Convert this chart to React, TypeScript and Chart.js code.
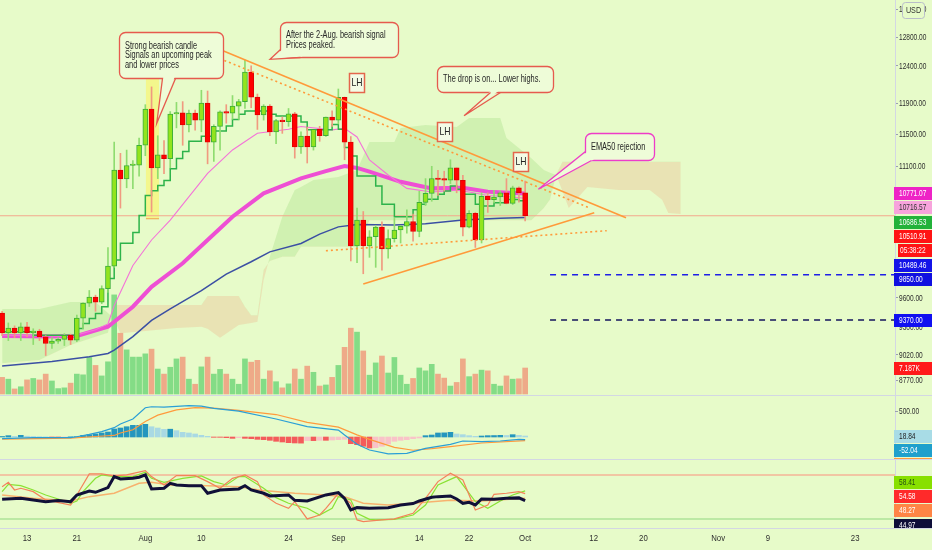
import React, { useEffect, useRef } from 'react';
import { Chart, registerables } from 'chart.js';

Chart.register(...registerables);

// ---------------- layout constants (pixels) ----------------
const W = 932;
const H = 550;
const AXIS_W = 37;
const TIME_H = 22;
const PLOT_TOP = 0;
const PLOT_BOTTOM = H - TIME_H;
const MAIN_BOTTOM = 395;
const MACD_BOTTOM = 459;
const BG = '#e7fbc9';
const FONT = "'Liberation Sans', Arial, sans-serif";
const SQUEEZE = 0.75;
const TEXT = '#2e2e2e';

// ---------------- time axis: days relative to 1 Aug 2020 ----------------
const X_MIN = -23.34;
const X_MAX = 120.4;
const FIRST_DAY = -23; // first candle: 9 Jul
const timeTickDays = [-19, -11, 0, 9, 23, 31, 44, 52, 61, 72, 80, 92, 100, 114];
const timeTickLabels = ['13', '21', 'Aug', '10', '24', 'Sep', '14', '22', 'Oct', '12', '20', 'Nov', '9', '23'];

// ---------------- axis ticks ----------------
const priceTicks = [13200, 12800, 12400, 11900, 11500, 11100, 9600, 9300, 9020, 8770];
const macdTicks = [500];
const COUNTDOWN = '05:38:22';

// ---------------- daily candles (BTCUSD) ----------------
const opens = [9441, 9237, 9287, 9237, 9300, 9240, 9255, 9197, 9130, 9155, 9172, 9212, 9165, 9390, 9546, 9610, 9555, 9700, 9944, 11054,
  10946, 11110, 11115, 11360, 11823, 11079, 11241, 11195, 11758, 11775, 11617, 11770, 11680, 11900, 11400, 11600, 11785, 11770, 11860, 11920,
  12315, 11980, 11745, 11860, 11527, 11675, 11660, 11760, 11339, 11477, 11339, 11560, 11480, 11720, 11680, 11975, 11400, 10166, 10460, 10166,
  10270, 10380, 10135, 10250, 10347, 10390, 10445, 10330, 10668, 10773, 10952, 10940, 10932, 11080, 10930, 10380, 10540, 10235, 10737, 10700,
  10730, 10780, 10655, 10840, 10780];
const highs = [9460, 9340, 9310, 9340, 9345, 9280, 9275, 9210, 9190, 9190, 9230, 9225, 9420, 9550, 9680, 9630, 9730, 10150, 11400, 11260,
  11300, 11170, 11450, 11880, 12115, 11480, 11420, 11790, 11910, 11920, 11810, 11810, 12070, 12060, 11620, 11800, 11880, 12000, 11950, 12480,
  12400, 12020, 11880, 11880, 11690, 11720, 11830, 11780, 11530, 11590, 11560, 11600, 11720, 11800, 12087, 11980, 11470, 10600, 10560, 10340,
  10400, 10440, 10350, 10480, 10400, 10580, 10530, 10800, 10950, 11100, 11050, 11040, 11180, 11080, 10990, 10570, 10550, 10780, 10780, 10810,
  10800, 10950, 10860, 10850, 10920];
const lows = [9210, 9160, 9190, 9160, 9200, 9120, 9160, 9010, 9080, 9130, 9110, 9120, 9150, 9280, 9510, 9460, 9540, 9660, 9930, 10600,
  10840, 10830, 10980, 11230, 10554, 10950, 11010, 11080, 11580, 11360, 11530, 11550, 11530, 11130, 11160, 11300, 11640, 11690, 11690, 11830,
  11840, 11560, 11680, 11480, 11380, 11510, 11600, 11200, 11260, 11140, 11300, 11410, 11470, 11600, 11630, 11180, 10000, 9980, 9860, 10040,
  9930, 9900, 10030, 10210, 10200, 10310, 10220, 10270, 10630, 10680, 10750, 10800, 10890, 10780, 10280, 10370, 10150, 10200, 10550, 10660,
  10630, 10650, 10640, 10670, 10450];
const closes = [9237, 9287, 9237, 9300, 9240, 9255, 9197, 9130, 9155, 9172, 9212, 9165, 9390, 9546, 9610, 9555, 9700, 9944, 11054, 10946,
  11110, 11115, 11360, 11823, 11079, 11241, 11195, 11758, 11775, 11617, 11770, 11680, 11900, 11400, 11600, 11785, 11770, 11860, 11920, 12315,
  11980, 11745, 11860, 11527, 11675, 11660, 11760, 11339, 11477, 11339, 11560, 11480, 11720, 11680, 11975, 11400, 10166, 10460, 10166, 10270,
  10380, 10135, 10250, 10347, 10390, 10445, 10330, 10668, 10773, 10952, 10940, 10932, 11080, 10930, 10380, 10540, 10235, 10737, 10700, 10730,
  10780, 10655, 10840, 10780, 10510.91];
// volume in thousands
const volumesK = [4.6, 4.1, 1.4, 2.0, 3.9, 4.3, 3.9, 5.5, 3.6, 1.5, 1.7, 3.0, 5.5, 5.3, 10.1, 7.9, 5.0, 8.9, 27.4, 16.8,
  12.2, 10.2, 10.2, 11.1, 12.4, 6.9, 5.5, 7.4, 9.7, 10.2, 4.1, 2.7, 7.5, 10.2, 5.5, 6.8, 5.5, 4.1, 2.7, 9.7,
  8.8, 9.3, 4.1, 6.4, 3.4, 1.7, 2.8, 6.9, 4.1, 7.7, 6.0, 2.2, 2.5, 4.6, 7.9, 12.9, 18.2, 17.1, 11.9, 5.2,
  8.6, 10.5, 5.8, 10.1, 5.2, 2.7, 4.3, 7.2, 6.4, 8.2, 5.5, 4.4, 2.2, 3.2, 9.7, 4.8, 5.5, 6.6, 6.4, 2.7,
  2.2, 5.0, 4.1, 4.2, 7.187];
// step line (one value per candle)
const tenkan = [9249, 9249, 9249, 9249, 9249, 9249, 9215, 9215, 9215, 9215, 9215, 9215, 9215, 9283, 9334, 9386, 9438, 9508, 9808, 10011,
  10197, 10197, 10319, 10514, 10747, 10806, 10866, 10926, 11069, 11196, 11283, 11412, 11412, 11475, 11475, 11539, 11539, 11603, 11689, 11754,
  11798, 11798, 11798, 11798, 11754, 11733, 11733, 11733, 11733, 11655, 11557, 11557, 11557, 11557, 11624, 11561, 11331, 11227, 10981, 10981,
  10981, 10862, 10644, 10644, 10500, 10500, 10500, 10581, 10644, 10703, 10703, 10763, 10803, 10862, 10822, 10763, 10763, 10644, 10624, 10624,
  10663, 10663, 10700, 10700, 10686.53];

// ---------------- moving averages (sampled) ----------------
const ema50Days = [-23, -15, -11, -6, -2, 1, 6, 10, 14, 19, 25, 29, 32, 34, 36, 41, 46, 51, 55, 61];
const ema50Vals = [9206, 9200, 9206, 9301, 9508, 9719, 9974, 10234, 10500, 10774, 10953, 11040, 11103, 11080, 11034, 10912, 10833, 10840, 10793, 10771.07];
const ema20Days = [-23, -12, -8, -6, -5, -4, -2, 1, 4, 10, 14, 18, 23, 25, 30, 32, 34, 36, 39, 42, 46, 50, 52, 55, 58, 61];
const ema20Vals = [9215, 9200, 9270, 9330, 9520, 9660, 9950, 10234, 10460, 11014, 11302, 11511, 11562, 11598, 11554, 11575, 11465, 11177, 10994, 10833, 10790, 10812, 10790, 10748, 10736, 10716.57];
const blueDays = [-23, -15, -9, -6, -5, -2, 1, 4, 9, 13, 17, 20, 25, 28, 31, 34, 40, 45, 51, 57, 61];
const blueVals = [8906, 8950, 8998, 9030, 9064, 9200, 9366, 9486, 9679, 9856, 9991, 10101, 10194, 10300, 10383, 10410, 10405, 10420, 10462, 10483, 10489.46];

// ---------------- cloud ----------------
const cloudDays = [-23, -17, -12, -8, -6, -5, -4, 0, 5, 9, 10, 12, 15, 16, 17, 18, 19, 20, 22, 24,
  25, 27, 31, 34, 36, 40, 41, 45, 50, 52, 57, 58, 62, 64, 65, 66, 67, 68, 71, 76, 81, 83, 84, 86];
const spanA = [9484, 9484, 9558, 9558, 9443, 9380, 9235, 9256, 9287, 9300, 9280, 9188, 9319, 9330, 9340, 9351, 9792, 10046, 10498, 10813,
  10850, 10933, 10971, 11054, 11401, 11401, 11578, 11617, 11592, 11707, 11707, 11451, 11200, 11054, 11020, 10994, 10800, 10602, 10849, 10813,
  10813, 10699, 10543, 10530];
const spanB = [8934, 8965, 9115, 9198, 9240, 9526, 9526, 9526, 9526, 9526, 9621, 9621, 9621, 9507, 9420, 9420, 9900, 10000, 10046, 10046,
  10157, 10157, 10157, 10157, 10460, 10460, 10460, 10460, 10460, 10460, 10460, 10460, 10460, 10600, 10700, 11000, 11157, 11157, 11157, 11157,
  11157, 11157, 11157, 11157];

// ---------------- drawn trend lines & levels ----------------
const resistanceDays = [10.92, 77.2];
const resistancePrices = [12664, 10488];
const resistanceDotDays = [11.2, 71.2];
const resistanceDotPrices = [12525, 10607];
const supportDays = [35.0, 72.1];
const supportPrices = [9749, 10547];
const supportDotDays = [29.0, 74.1];
const supportDotPrices = [10113, 10339];
const levelPrices = [9850, 9370];
const LEVEL_START_DAY = 65;

// ---------------- MACD ----------------
const macdDays = [-23, -18, -12, -11, -9, -7, -5, -4, -2, 0, 1, 3, 7, 9, 11, 15, 21, 26, 31, 32, 34, 36, 39, 42, 45, 49, 51, 54, 57, 60, 61];
const macdVals = [-32, -13, -13, 5, 50, 102, 179, 250, 346, 563, 582, 576, 602, 595, 550, 499, 346, 198, 134, 38, -141, -250, -326, -314, -218, -141, -77, -90, -77, -45, -52.04];
const signalDays = [-23, -12, -8, -5, -4, -2, 0, 2, 5, 8, 11, 15, 21, 26, 31, 34, 36, 40, 43, 46, 49, 54, 61];
const signalVals = [-40, -22, 10, 30, 77, 140, 300, 420, 520, 565, 556, 512, 432, 280, 190, 40, -45, -200, -255, -225, -185, -115, -70.9];
const histVals = [10, 26, 13, 32, 15, 10, 6, 3, -3, -5, -3, 3, 6, 32, 45, 58, 77, 96, 154, 173,
  198, 224, 224, 244, 198, 173, 147, 150, 122, 90, 77, 58, 32, 13, -6, -6, -13, -26, -13, -26,
  -32, -45, -51, -64, -83, -96, -109, -115, -118, -70, -70, -64, -64, -58, -51, -45, -128, -147, -179, -211,
  -205, -179, -134, -83, -64, -51, -32, -19, 26, 38, 77, 80, 90, 58, 45, 26, 13, 19, 26, 28,
  32, 30, 45, 32, 18.84];

// ---------------- RSI / stochastic panel ----------------
const rsiDays = [-23, -20, -18, -16, -14, -12, -11, -9, -8, -6, -5, -4, -2, -1, 0, 1, 3, 4, 5, 7, 9, 10, 12, 15, 16, 17, 19, 20, 23, 24,
  26, 29, 31, 32, 33, 34, 36, 39, 41, 43, 44, 46, 47, 49, 50, 51, 52, 53, 54, 56, 58, 60, 61];
const rsiVals = [46.9, 48.2, 46.0, 43.7, 45.1, 43.7, 52.8, 58.2, 56.4, 62.8, 77.8, 74.6, 75.5, 77.0, 80.1, 61.0, 61.9, 68.7, 66.4, 65.5,
  65.5, 55.1, 59.6, 61.0, 65.5, 59.6, 55.1, 51.4, 52.8, 45.5, 44.6, 52.8, 56.0, 48.2, 32.3, 35.5, 34.6, 35.5, 39.1, 41.0,
  44.6, 49.6, 50.5, 51.4, 47.3, 41.4, 42.8, 39.1, 47.3, 46.9, 48.2, 48.8, 44.97];
const rsiMaDays = [-23, -18, -12, -9, -5, -1, 1, 4, 10, 15, 19, 24, 29, 32, 35, 39, 43, 49, 54, 61];
const rsiMaVals = [52.8, 48.2, 44.6, 50.5, 55.1, 68.7, 70.1, 66.4, 65.5, 64.1, 58.7, 55.1, 52.8, 50.5, 41.4, 39.1, 41.4, 45.5, 44.6, 48.27];
const stochKDays = [-23, -22, -20, -18, -16, -13, -12, -11, -10, -8, -7, -5, -2, 0, 1, 3, 6, 9, 11, 13, 15, 16, 19, 21, 23, 25, 26, 28, 30, 31,
  33, 34, 36, 37, 40, 43, 45, 47, 50, 51, 53, 55, 57, 59, 61];
const stochKVals = [57.3, 67.3, 65.5, 59.6, 52.8, 44.6, 41.4, 44.6, 57.3, 75.5, 80.1, 77.8, 77.8, 83.7, 75.5, 70.1, 75.5, 78.7, 71.0, 66.4,
  77.8, 77.8, 61.9, 49.1, 41.4, 36.9, 34.6, 25.5, 34.6, 50.5, 46.0, 27.8, 19.6, 18.7, 19.6, 25.5, 39.1, 66.4, 77.8, 66.4,
  43.7, 34.6, 44.6, 52.8, 58.41];
const stochDDays = [-23, -22, -21, -20, -18, -16, -12, -11, -9, -7, -5, -3, 0, 1, 3, 5, 8, 10, 12, 14, 16, 18, 19, 21, 23, 24, 26, 28, 29, 31,
  33, 34, 35, 38, 40, 43, 45, 47, 49, 51, 53, 55, 56, 58, 60, 61];
const stochDVals = [64.1, 70.1, 59.6, 61.9, 57.3, 46.0, 39.1, 52.8, 81.4, 81.4, 78.7, 80.1, 86.0, 77.8, 66.4, 79.2, 79.2, 71.0, 61.9, 75.5,
  80.1, 71.0, 52.8, 41.4, 34.6, 43.7, 20.1, 25.5, 34.6, 55.1, 41.4, 18.7, 16.4, 18.7, 20.1, 27.8, 48.2, 71.0, 82.3, 73.2,
  32.3, 39.1, 53.7, 55.1, 57.3, 54.58];
const rsiBands = [80, 20];

// ---------------- annotations ----------------
const highlight = { d0: 0.1, d1: 2.2, hi: 12230, lo: 10482 };
const callouts = [
  { lines: ['Strong bearish candle', 'Signals an upcoming peak', 'and lower prices'], day: -4.22, price: 12875, w: 104, h: 46,
    base: [[43, 46], [56, 46]], tipDay: 1.83, tipPrice: 11639, color: '#e65a4e' },
  { lines: ['After the 2-Aug. bearish signal', 'Prices peaked.'], day: 21.63, price: 13018, w: 118, h: 35,
    base: [[0, 27], [20, 35]], tipDay: 20.03, tipPrice: 12489, color: '#e65a4e' },
  { lines: ['The drop is on... Lower highs.'], day: 46.8, price: 12397, w: 116, h: 26,
    base: [[53, 26], [63, 26]], tipDay: 51.19, tipPrice: 11736, color: '#e65a4e' },
  { lines: ['EMA50 rejection'], day: 70.62, price: 11511, w: 69, h: 27,
    base: [[0, 18], [6, 27]], tipDay: 63.12, tipPrice: 10822, color: '#ee3cc8' },
];
const lhMarks = [
  { day: 34.0, price: 12167 },
  { day: 48.2, price: 11527 },
  { day: 60.26, price: 11148 },
];

// ---------------- scale calibration ----------------
const PRICE_CAL = { v1: 12800, y1: 37, v2: 9370, y2: 320 };
const VOL_CAL = { v1: 0, y1: 394, v2: 7.187, y2: 368 };
const MACD_CAL = { v1: 0, y1: 437, v2: 500, y2: 411 };
const RSI_CAL = { v1: 80, y1: 475, v2: 20, y2: 519 };

function linRange(c: any) {
  const k = (c.v1 - c.v2) / (c.y2 - c.y1);
  return { min: c.v1 - k * (PLOT_BOTTOM - c.y1), max: c.v1 + k * (c.y1 - PLOT_TOP) };
}
function logRange(c: any) {
  const l1 = Math.log10(c.v1);
  const l2 = Math.log10(c.v2);
  const k = (l1 - l2) / (c.y2 - c.y1);
  return { min: Math.pow(10, l1 - k * (PLOT_BOTTOM - c.y1)), max: Math.pow(10, l1 + k * (c.y1 - PLOT_TOP)) };
}

const last = (a: number[]) => a[a.length - 1];
const pts = (xs: number[], ys: number[]) => xs.map((x, k) => ({ x, y: ys[k] }));
const candleX = (i: number) => FIRST_DAY + i;

function roundRect(ctx: CanvasRenderingContext2D, x: number, y: number, w: number, h: number, r: number) {
  ctx.beginPath();
  ctx.moveTo(x + r, y);
  ctx.arcTo(x + w, y, x + w, y + h, r);
  ctx.arcTo(x + w, y + h, x, y + h, r);
  ctx.arcTo(x, y + h, x, y, r);
  ctx.arcTo(x, y, x + w, y, r);
  ctx.closePath();
}

// narrow text: the reference uses a condensed face
function sText(ctx: CanvasRenderingContext2D, text: string, x: number, y: number, align: CanvasTextAlign = 'left', sx = SQUEEZE) {
  ctx.save();
  ctx.translate(x, y);
  ctx.scale(sx, 1);
  ctx.textAlign = align;
  ctx.textBaseline = 'middle';
  ctx.fillText(text, 0, 0);
  ctx.restore();
}

function layoutLabels(items: any[], maxY: number | null, gap: number) {
  items.sort((a, b) => a.y - b.y);
  for (let k = 1; k < items.length; k++) {
    if (items[k].y < items[k - 1].y + gap) items[k].y = items[k - 1].y + gap;
  }
  if (maxY !== null) {
    const over = items[items.length - 1].y - maxY;
    if (over > 0) items.forEach((it) => (it.y -= over));
  }
  return items;
}

const decorPlugin = {
  id: 'tvDecor',
  beforeDraw(chart: any) {
    const ctx = chart.ctx;
    ctx.save();
    ctx.fillStyle = BG;
    ctx.fillRect(0, 0, chart.width, chart.height);
    ctx.restore();
  },
  beforeDatasetsDraw(chart: any) {
    const ctx = chart.ctx;
    const xs = chart.scales.x;
    const ys = chart.scales.y;
    const x0 = xs.getPixelForValue(highlight.d0);
    const x1 = xs.getPixelForValue(highlight.d1);
    const y0 = ys.getPixelForValue(highlight.hi);
    const y1 = ys.getPixelForValue(highlight.lo);
    ctx.save();
    ctx.fillStyle = 'rgba(255, 244, 80, 0.5)';
    ctx.fillRect(x0, y0, x1 - x0, y1 - y0);
    ctx.strokeStyle = '#f2a040';
    ctx.lineWidth = 1;
    ctx.beginPath();
    ctx.moveTo(x0, y1 + 0.5);
    ctx.lineTo(x1, y1 + 0.5);
    ctx.stroke();
    ctx.restore();
  },
  afterDatasetsDraw(chart: any) {
    const ctx = chart.ctx;
    const xs = chart.scales.x;
    const ys = chart.scales.y;
    ctx.save();
    callouts.forEach((c) => {
      const bx = Math.round(xs.getPixelForValue(c.day)) + 0.5;
      const by = Math.round(ys.getPixelForValue(c.price)) + 0.5;
      const tx = xs.getPixelForValue(c.tipDay);
      const ty = ys.getPixelForValue(c.tipPrice);
      ctx.lineWidth = 1.3;
      ctx.strokeStyle = c.color;
      ctx.fillStyle = '#eefcd8';
      roundRect(ctx, bx, by, c.w, c.h, 6);
      ctx.fill();
      ctx.stroke();
      const cx = bx + c.w / 2;
      const cy = by + c.h / 2;
      const b = c.base.map(([ox, oy]) => [bx + ox, by + oy]);
      const inset = (p: number[]) => {
        const dx = cx - p[0];
        const dy = cy - p[1];
        const L = Math.hypot(dx, dy) || 1;
        return [p[0] + (dx / L) * 2.5, p[1] + (dy / L) * 2.5];
      };
      const i1 = inset(b[0]);
      const i2 = inset(b[1]);
      ctx.beginPath();
      ctx.moveTo(i1[0], i1[1]);
      ctx.lineTo(tx, ty);
      ctx.lineTo(i2[0], i2[1]);
      ctx.closePath();
      ctx.fill();
      ctx.beginPath();
      ctx.moveTo(b[0][0], b[0][1]);
      ctx.lineTo(tx, ty);
      ctx.lineTo(b[1][0], b[1][1]);
      ctx.stroke();
      ctx.fillStyle = '#262626';
      ctx.font = `10px ${FONT}`;
      const n = c.lines.length;
      c.lines.forEach((t, k) => {
        sText(ctx, t, bx + 5.5, cy + (k - (n - 1) / 2) * 9.7, 'left', 0.74);
      });
    });
    lhMarks.forEach((m) => {
      const px = Math.round(xs.getPixelForValue(m.day));
      const py = Math.round(ys.getPixelForValue(m.price));
      ctx.fillStyle = '#f3fbe6';
      ctx.strokeStyle = '#e4664c';
      ctx.lineWidth = 1.5;
      ctx.fillRect(px - 7.5, py - 9.5, 15, 19);
      ctx.strokeRect(px - 7.5, py - 9.5, 15, 19);
      ctx.fillStyle = '#222';
      ctx.font = `10.5px ${FONT}`;
      sText(ctx, 'LH', px, py + 0.5, 'center', 0.82);
    });
    ctx.restore();
  },
  afterDraw(chart: any) {
    const ctx = chart.ctx;
    const area = chart.chartArea;
    const right = area.right;
    ctx.save();
    // panel separators and axis line
    ctx.strokeStyle = '#d3d7e3';
    ctx.lineWidth = 1;
    [MAIN_BOTTOM, MACD_BOTTOM, area.bottom].forEach((y) => {
      ctx.beginPath();
      ctx.moveTo(0, y + 0.5);
      ctx.lineTo(chart.width, y + 0.5);
      ctx.stroke();
    });
    ctx.beginPath();
    ctx.moveTo(right + 0.5, 0);
    ctx.lineTo(right + 0.5, area.bottom);
    ctx.stroke();

    ctx.fillStyle = TEXT;
    // time axis labels
    ctx.font = `9.5px ${FONT}`;
    const xs = chart.scales.x;
    xs.ticks.forEach((t: any, k: number) => {
      sText(ctx, timeTickLabels[k], xs.getPixelForValue(t.value), area.bottom + 10.5, 'center', 0.82);
    });
    // price axis labels
    ctx.font = `9px ${FONT}`;
    const ys = chart.scales.y;
    ys.ticks.forEach((t: any) => {
      sText(ctx, Number(t.value).toFixed(2), right + 4, ys.getPixelForValue(t.value) + 0.5, 'left', 0.73);
    });
    // MACD axis ticks
    const ym = chart.scales.yMacd;
    macdTicks.forEach((v) => {
      const y = ym.getPixelForValue(v);
      ctx.strokeStyle = '#9aa0ae';
      ctx.beginPath();
      ctx.moveTo(right, y + 0.5);
      ctx.lineTo(right + 3, y + 0.5);
      ctx.stroke();
      sText(ctx, v.toFixed(2), right + 4, y + 0.5, 'left', 0.73);
    });

    const drawLabel = (it: any, top: number, bottom: number) => {
      ctx.save();
      ctx.beginPath();
      ctx.rect(0, top, chart.width, bottom - top);
      ctx.clip();
      const x0 = it.narrow ? right + 3 : right - 1;
      const yTop = Math.round(it.y - 6.5);
      ctx.fillStyle = it.bg;
      ctx.fillRect(x0, yTop, chart.width - x0, 13);
      ctx.fillStyle = it.fg;
      ctx.font = `9px ${FONT}`;
      sText(ctx, it.text, it.narrow ? right + 5 : right + 4, yTop + 7, 'left', 0.73);
      ctx.restore();
    };

    const mainLabels = [
      { v: last(ema50Vals), bg: '#ee24c6', fg: '#ffffff' },
      { v: last(ema20Vals), bg: '#f7a3dc', fg: '#333333' },
      { v: last(tenkan), bg: '#22b23a', fg: '#ffffff' },
      { v: last(closes), bg: '#ff1414', fg: '#ffffff' },
      { v: last(closes), bg: '#ff1414', fg: '#ffffff', text: COUNTDOWN, eps: 0.01, narrow: true },
      { v: last(blueVals), bg: '#1414e8', fg: '#ffffff' },
      { v: levelPrices[0], bg: '#1010e0', fg: '#ffffff' },
      { v: levelPrices[1], bg: '#1010f0', fg: '#ffffff' },
    ].map((l: any) => ({ ...l, y: ys.getPixelForValue(l.v) + (l.eps || 0), text: l.text || l.v.toFixed(2) }));
    layoutLabels(mainLabels, null, 14.3).forEach((it) => drawLabel(it, 0, MAIN_BOTTOM));

    const yv = chart.scales.yVol;
    drawLabel({ y: yv.getPixelForValue(last(volumesK)), bg: '#ff1a1a', fg: '#ffffff', text: last(volumesK).toFixed(3) + 'K' }, 0, MAIN_BOTTOM);

    const macdLabels = [
      { v: last(histVals), bg: '#a8dce6', fg: '#222222' },
      { v: last(macdVals), bg: '#1fa0cc', fg: '#ffffff' },
      { v: last(signalVals), bg: '#ff9a3c', fg: '#ffffff' },
    ].map((l: any) => ({ ...l, y: ym.getPixelForValue(l.v), text: l.v.toFixed(2) }));
    layoutLabels(macdLabels, null, 14.3).forEach((it) => drawLabel(it, MAIN_BOTTOM + 1, MACD_BOTTOM));

    const yr = chart.scales.yRsi;
    const rsiLabels = [
      { v: last(stochKVals), bg: '#88e000', fg: '#245010' },
      { v: last(stochDVals), bg: '#ff2a2a', fg: '#ffffff' },
      { v: last(rsiMaVals), bg: '#ff8545', fg: '#ffffff' },
      { v: last(rsiVals), bg: '#0e0e38', fg: '#ffffff' },
    ].map((l: any) => ({ ...l, y: yr.getPixelForValue(l.v), text: l.v.toFixed(2) }));
    layoutLabels(rsiLabels, area.bottom - 3, 14.3).forEach((it) => drawLabel(it, MACD_BOTTOM + 1, area.bottom));

    // currency badge
    ctx.fillStyle = BG;
    ctx.strokeStyle = '#b9bdc9';
    ctx.lineWidth = 1;
    roundRect(ctx, right + 7.5, 2.5, 22, 16, 3);
    ctx.fill();
    ctx.stroke();
    ctx.fillStyle = '#333';
    ctx.font = `9px ${FONT}`;
    sText(ctx, 'USD', right + 18.5, 11, 'center', 0.8);
    ctx.restore();
  },
};

export default function App() {
  const ref = useRef<HTMLCanvasElement | null>(null);

  useEffect(() => {
    const up = closes.map((c, i) => c >= opens[i]);
    const priceR = logRange(PRICE_CAL);
    const volR = linRange(VOL_CAL);
    const macdR = linRange(MACD_CAL);
    const rsiR = linRange(RSI_CAL);

    const histColors = histVals.map((v, i) => {
      const prev = i > 0 ? histVals[i - 1] : v;
      if (v >= 0) return v >= prev ? '#2596be' : '#a9d9e3';
      return v <= prev ? '#f45b5b' : '#f9c3c8';
    });

    const line = (data: any[], color: string, width: number, order: number, axis = 'y', extra: any = {}) => ({
      type: 'line',
      data,
      borderColor: color,
      borderWidth: width,
      pointRadius: 0,
      tension: 0,
      fill: false,
      order,
      yAxisID: axis,
      ...extra,
    });

    const hiddenLinear = (r: any) => ({ type: 'linear', display: false, min: r.min, max: r.max, bounds: 'data' });

    const chart = new Chart(ref.current as HTMLCanvasElement, {
      type: 'bar',
      data: {
        datasets: [
          line(pts(cloudDays, spanA), 'transparent', 0, 100, 'y', {
            fill: { target: '+1', above: 'rgba(170, 225, 140, 0.38)', below: 'rgba(236, 204, 160, 0.5)' },
          }),
          line(pts(cloudDays, spanB), 'transparent', 0, 101),
          {
            type: 'bar',
            data: volumesK.map((v, i) => ({ x: candleX(i), y: v })),
            backgroundColor: up.map((u) => (u ? '#84dc86' : '#eeaa88')),
            barThickness: 5,
            grouped: false,
            order: 90,
            yAxisID: 'yVol',
          },
          line([{ x: X_MIN, y: last(closes) }, { x: X_MAX, y: last(closes) }], '#f3a98c', 1, 80),
          line(pts(blueDays, blueVals), '#3b4fa3', 1.5, 60),
          line(pts(ema50Days, ema50Vals), '#ee4fd4', 4, 59),
          line(pts(ema20Days, ema20Vals), '#f473d8', 1.1, 58),
          line(tenkan.map((v, i) => ({ x: candleX(i), y: v })), '#2db34a', 1.5, 57, 'y', { stepped: 'after' }),
          {
            type: 'bar',
            data: highs.map((h, i) => ({ x: candleX(i), y: [lows[i], h] })),
            backgroundColor: up.map((u) => (u ? '#8fdc70' : '#f09a80')),
            barThickness: 1,
            grouped: false,
            order: 30,
            yAxisID: 'y',
          },
          {
            type: 'bar',
            data: opens.map((o, i) => ({ x: candleX(i), y: [Math.min(o, closes[i]), Math.max(o, closes[i])] })),
            backgroundColor: up.map((u) => (u ? '#92e41e' : '#ff0000')),
            borderColor: up.map((u) => (u ? '#3cae3a' : '#e00000')),
            borderWidth: 1,
            borderSkipped: false,
            minBarLength: 1.5,
            barThickness: 5,
            grouped: false,
            order: 29,
            yAxisID: 'y',
          },
          line(pts(resistanceDays, resistancePrices), '#ff9a3a', 1.6, 10),
          line(pts(resistanceDotDays, resistanceDotPrices), '#ff9a3a', 1.6, 10, 'y', { borderDash: [2, 3] }),
          line(pts(supportDays, supportPrices), '#ff9a3a', 1.6, 10),
          line(pts(supportDotDays, supportDotPrices), '#ff9a3a', 1.6, 10, 'y', { borderDash: [2, 3] }),
          line([{ x: LEVEL_START_DAY, y: levelPrices[0] }, { x: X_MAX, y: levelPrices[0] }], '#1f1fe6', 1.5, 10, 'y', { borderDash: [6, 5] }),
          line([{ x: LEVEL_START_DAY, y: levelPrices[1] }, { x: X_MAX, y: levelPrices[1] }], '#14145c', 1.5, 10, 'y', { borderDash: [6, 5] }),
          {
            type: 'bar',
            data: histVals.map((v, i) => ({ x: candleX(i), y: v })),
            backgroundColor: histColors,
            barThickness: 5,
            grouped: false,
            order: 50,
            yAxisID: 'yMacd',
          },
          line(pts(signalDays, signalVals), '#ff9a3c', 1.2, 41, 'yMacd'),
          line(pts(macdDays, macdVals), '#2a9fd6', 1.2, 40, 'yMacd'),
          line([{ x: X_MIN, y: rsiBands[0] }, { x: X_MAX, y: rsiBands[0] }], '#f5b496', 1.3, 60, 'yRsi'),
          line([{ x: X_MIN, y: rsiBands[1] }, { x: X_MAX, y: rsiBands[1] }], '#aee397', 1.6, 60, 'yRsi'),
          line(pts(rsiMaDays, rsiMaVals), '#f7b26e', 1.5, 45, 'yRsi'),
          line(pts(stochKDays, stochKVals), '#8ae234', 1.2, 44, 'yRsi'),
          line(pts(stochDDays, stochDVals), '#f4825a', 1.2, 43, 'yRsi'),
          line(pts(rsiDays, rsiVals), '#101038', 3, 42, 'yRsi'),
        ] as any,
      },
      options: {
        responsive: false,
        animation: false,
        events: [],
        layout: { padding: 0 },
        plugins: { legend: { display: false }, tooltip: { enabled: false } },
        scales: {
          x: {
            type: 'linear',
            min: X_MIN,
            max: X_MAX,
            offset: false,
            bounds: 'data',
            position: 'bottom',
            grid: { display: false, drawTicks: false, offset: false },
            border: { display: false },
            ticks: { display: false, autoSkip: false, maxRotation: 0 },
            afterBuildTicks: (s: any) => {
              s.ticks = timeTickDays.map((v) => ({ value: v }));
            },
            afterFit: (s: any) => {
              s.height = TIME_H;
              s.paddingLeft = 0;
              s.paddingRight = 0;
            },
          },
          y: {
            type: 'logarithmic',
            position: 'right',
            min: priceR.min,
            max: priceR.max,
            bounds: 'data',
            grid: { display: true, drawOnChartArea: false, drawTicks: true, tickLength: 3, color: '#9aa0ae' },
            border: { display: false },
            ticks: { display: false },
            afterBuildTicks: (s: any) => {
              s.ticks = priceTicks.map((v) => ({ value: v }));
            },
            afterFit: (s: any) => {
              s.width = AXIS_W;
              s.paddingTop = 0;
              s.paddingBottom = 0;
            },
          },
          yVol: hiddenLinear(volR),
          yMacd: hiddenLinear(macdR),
          yRsi: hiddenLinear(rsiR),
        } as any,
      },
      plugins: [decorPlugin],
    } as any);

    return () => chart.destroy();
  }, []);

  return (
    <div style={{ position: 'fixed', left: 0, top: 0, width: W, height: H, background: BG }}>
      <canvas ref={ref} width={W} height={H} style={{ display: 'block', width: W, height: H }} />
    </div>
  );
}
